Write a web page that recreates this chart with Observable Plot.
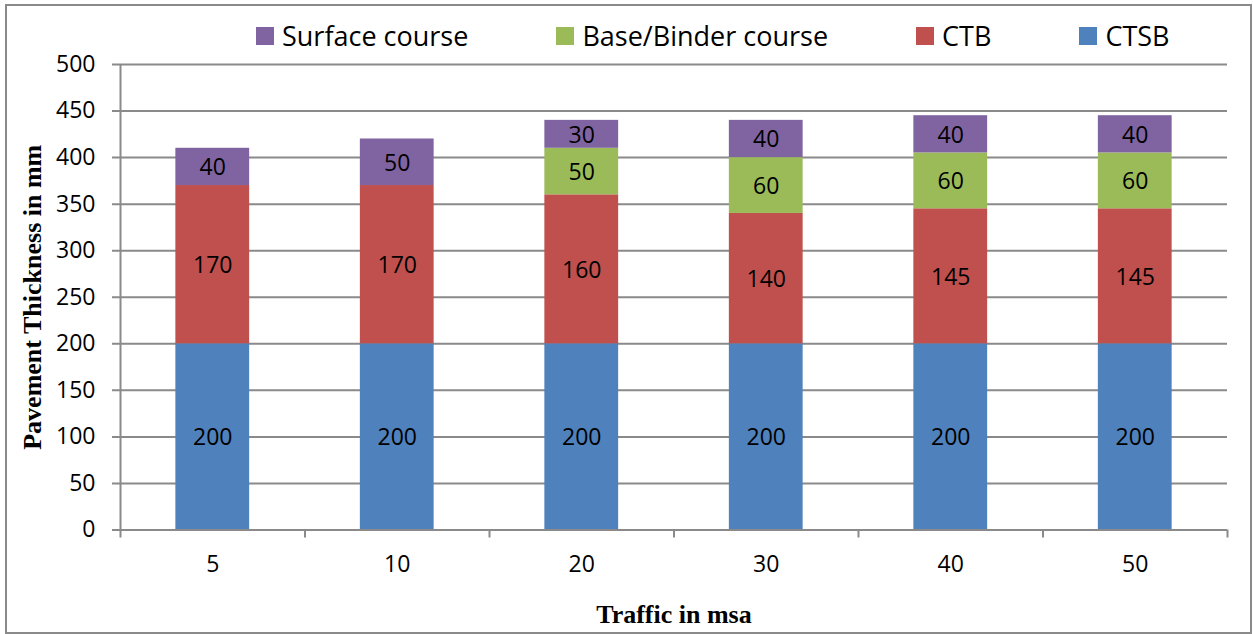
<!DOCTYPE html>
<html>
<head>
<meta charset="utf-8">
<script src="https://cdn.jsdelivr.net/npm/d3@7"></script>
<script src="https://cdn.jsdelivr.net/npm/@observablehq/plot@0.6"></script>
<style>
  html, body { margin: 0; padding: 0; background: #fff; }
  #wrap { position: relative; width: 1253px; height: 634px; overflow: hidden; }
  #border { position: absolute; left: 5px; top: 4px; width: 1247px; height: 630px; box-sizing: border-box; border: 2px solid #8a8a8a; pointer-events: none; }
  #legend { position: absolute; left: 256px; top: 17px; display: flex; align-items: center; gap: 88px;
            font-family: "Open Sans", sans-serif; font-size: 27px; color: #000; line-height: 38px; }
  .item { display: flex; align-items: center; white-space: nowrap; }
  .sw { width: 18px; height: 18px; margin-right: 8px; display: inline-block; }
  #chart { position: absolute; left: 0; top: 0; }
</style>
</head>
<body>
<div id="wrap">
  <div id="chart"></div>
  <div id="legend"></div>
  <div id="border"></div>
</div>
<script>
// ---- data ----
const traffic = ["5", "10", "20", "30", "40", "50"];
const layers = ["CTSB", "CTB", "Base/Binder course", "Surface course"]; // bottom to top
const ctsb = [200, 200, 200, 200, 200, 200];
const ctb = [170, 170, 160, 140, 145, 145];
const baseBinder = [0, 0, 50, 60, 60, 60];
const surface = [40, 50, 30, 40, 40, 40];
const legendOrder = ["Surface course", "Base/Binder course", "CTB", "CTSB"];
const legendColors = ["#8064A2", "#9BBB59", "#C0504D", "#4F81BD"];
const yTicks = [0, 50, 100, 150, 200, 250, 300, 350, 400, 450, 500];
const xTitle = "Traffic in msa";
const yTitle = "Pavement Thickness in mm";

const series = [ctsb, ctb, baseBinder, surface];
const rows = [];
traffic.forEach((t, i) => {
  layers.forEach((l, j) => rows.push({traffic: t, layer: l, value: series[j][i]}));
});

const W = 1253, H = 634, mL = 120, mR = 26, mT = 64, mB = 104.5;
const step = (W - mL - mR) / traffic.length;
const gridColor = "#8a8a8a";
const sans = "Open Sans, sans-serif";
const serif = "Liberation Serif, Times New Roman, serif";

const chart = Plot.plot({
  width: W, height: H,
  marginLeft: mL, marginRight: mR, marginTop: mT, marginBottom: mB,
  style: {background: "transparent"},
  x: {type: "band", domain: traffic, paddingInner: 0.6, paddingOuter: 0.3, round: false, axis: null},
  y: {domain: [0, 500], axis: null},
  color: {domain: legendOrder, range: legendColors},
  marks: [
    Plot.ruleY(yTicks.filter(d => d > 0), {y: d => d, stroke: gridColor, strokeWidth: 2, insetLeft: -8}),
    Plot.barY(rows, {x: "traffic", y: "value", fill: "layer"}),
    Plot.text(rows.filter(d => d.value > 0), Plot.stackY({x: "traffic", y: "value", z: "layer", text: d => String(d.value),
      fontSize: 23, fontFamily: sans, fill: "#000", dy: 1})),
    Plot.ruleY([0], {y: d => d, stroke: gridColor, strokeWidth: 2, insetLeft: -8}),
    Plot.ruleX([traffic[0]], {x: d => d, dx: -step / 2, y1: 0, y2: 500, stroke: gridColor, strokeWidth: 2}),
    Plot.ruleX(traffic, {x: d => d, dx: -step / 2, y1: 0, y2: 0, insetBottom: -8, stroke: gridColor, strokeWidth: 2}),
    Plot.ruleX([traffic[traffic.length - 1]], {x: d => d, dx: step / 2, y1: 0, y2: 0, insetBottom: -8, stroke: gridColor, strokeWidth: 2}),
    Plot.axisY({ticks: yTicks, tickSize: 0, tickPadding: 25, fontSize: 23, fontFamily: sans, fill: "#000", label: null, tickFormat: d => String(d)}),
    Plot.axisX({tickSize: 0, tickPadding: 26, fontSize: 23, fontFamily: sans, fill: "#000", label: null}),
    Plot.text([xTitle], {frameAnchor: "bottom", dy: 93, text: d => d, fontSize: 26, fontWeight: "bold", fontFamily: serif, fill: "#000"}),
    Plot.text([yTitle], {frameAnchor: "left", dx: -88, rotate: -90, textAnchor: "middle", text: d => d, fontSize: 26, fontWeight: "bold", fontFamily: serif, fill: "#000"})
  ]
});
document.getElementById("chart").appendChild(chart);

const legend = document.getElementById("legend");
legendOrder.forEach((name, i) => {
  const item = document.createElement("div");
  item.className = "item";
  const sw = document.createElement("span");
  sw.className = "sw";
  sw.style.background = legendColors[i];
  item.appendChild(sw);
  item.appendChild(document.createTextNode(name));
  legend.appendChild(item);
});
</script>
</body>
</html>
